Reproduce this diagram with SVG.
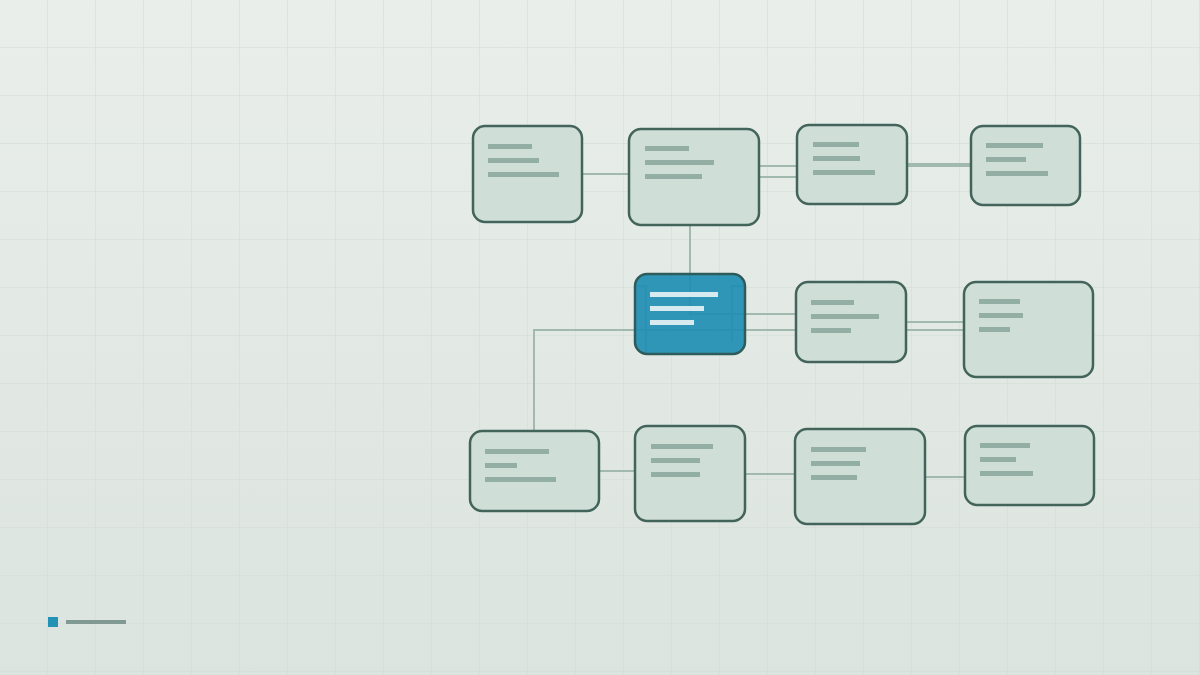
<svg xmlns="http://www.w3.org/2000/svg" width="1200" height="675" viewBox="0 0 1200 675">
<defs>
<linearGradient id="bg" x1="0" y1="0" x2="0" y2="1">
<stop offset="0" stop-color="#e9eeea"/>
<stop offset="1" stop-color="#dce4df"/>
</linearGradient>
<pattern id="grid" width="48" height="48" patternUnits="userSpaceOnUse">
<path d="M48 0V48M0 48H48" fill="none" stroke="#d0dbd5" stroke-width="1"/>
</pattern>
<style>
.node rect.box{fill:#cfdfd8;stroke:#43645b;stroke-width:2.5}
.node rect.bar{fill:#93afa5}
.hub rect.box{fill:#1c8db2;fill-opacity:0.9;stroke:#2f5c5a;stroke-width:2.5}
.hub rect.bar{fill:#d6eaf0}
.conn path{fill:none;stroke:#a2b9b0;stroke-width:2}
</style>
</defs>
<rect width="1200" height="675" fill="url(#bg)"/>
<rect width="1200" height="675" fill="url(#grid)"/>

<g id="connectors" class="conn">
<path d="M582 174H629"/>
<path d="M759 166H797M759 177H797"/>
<path d="M907 164H971M907 166H971"/>
<path d="M690 225V314H796"/>
<path d="M534 431V330H796"/>
<path d="M906 322H964M906 330H964"/>
<path d="M635 286H646V354M732 342V286H745"/>
<path d="M599 471H635"/>
<path d="M745 474H795"/>
<path d="M925 477H965"/>
</g>

<g id="nodeA" class="node">
<rect class="box" x="473" y="126" width="109" height="96" rx="12"/>
<rect class="bar" x="488" y="144" width="44" height="5"/>
<rect class="bar" x="488" y="158" width="51" height="5"/>
<rect class="bar" x="488" y="172" width="71" height="5"/>
</g>
<g id="nodeB" class="node">
<rect class="box" x="629" y="129" width="130" height="96" rx="12"/>
<rect class="bar" x="645" y="146" width="44" height="5"/>
<rect class="bar" x="645" y="160" width="69" height="5"/>
<rect class="bar" x="645" y="174" width="57" height="5"/>
</g>
<g id="nodeC" class="node">
<rect class="box" x="797" y="125" width="110" height="79" rx="12"/>
<rect class="bar" x="813" y="142" width="46" height="5"/>
<rect class="bar" x="813" y="156" width="47" height="5"/>
<rect class="bar" x="813" y="170" width="62" height="5"/>
</g>
<g id="nodeD" class="node">
<rect class="box" x="971" y="126" width="109" height="79" rx="12"/>
<rect class="bar" x="986" y="143" width="57" height="5"/>
<rect class="bar" x="986" y="157" width="40" height="5"/>
<rect class="bar" x="986" y="171" width="62" height="5"/>
</g>
<g id="hub" class="hub">
<rect class="box" x="635" y="274" width="110" height="80" rx="12"/>
<rect class="bar" x="650" y="292" width="68" height="5"/>
<rect class="bar" x="650" y="306" width="54" height="5"/>
<rect class="bar" x="650" y="320" width="44" height="5"/>
</g>
<g id="nodeF" class="node">
<rect class="box" x="796" y="282" width="110" height="80" rx="12"/>
<rect class="bar" x="811" y="300" width="43" height="5"/>
<rect class="bar" x="811" y="314" width="68" height="5"/>
<rect class="bar" x="811" y="328" width="40" height="5"/>
</g>
<g id="nodeG" class="node">
<rect class="box" x="964" y="282" width="129" height="95" rx="12"/>
<rect class="bar" x="979" y="299" width="41" height="5"/>
<rect class="bar" x="979" y="313" width="44" height="5"/>
<rect class="bar" x="979" y="327" width="31" height="5"/>
</g>
<g id="nodeH" class="node">
<rect class="box" x="470" y="431" width="129" height="80" rx="12"/>
<rect class="bar" x="485" y="449" width="64" height="5"/>
<rect class="bar" x="485" y="463" width="32" height="5"/>
<rect class="bar" x="485" y="477" width="71" height="5"/>
</g>
<g id="nodeI" class="node">
<rect class="box" x="635" y="426" width="110" height="95" rx="12"/>
<rect class="bar" x="651" y="444" width="62" height="5"/>
<rect class="bar" x="651" y="458" width="49" height="5"/>
<rect class="bar" x="651" y="472" width="49" height="5"/>
</g>
<g id="nodeJ" class="node">
<rect class="box" x="795" y="429" width="130" height="95" rx="12"/>
<rect class="bar" x="811" y="447" width="55" height="5"/>
<rect class="bar" x="811" y="461" width="49" height="5"/>
<rect class="bar" x="811" y="475" width="46" height="5"/>
</g>
<g id="nodeK" class="node">
<rect class="box" x="965" y="426" width="129" height="79" rx="12"/>
<rect class="bar" x="980" y="443" width="50" height="5"/>
<rect class="bar" x="980" y="457" width="36" height="5"/>
<rect class="bar" x="980" y="471" width="53" height="5"/>
</g>

<g id="legend">
<rect x="48" y="617" width="10" height="10" fill="#2392b4"/>
<rect x="66" y="620" width="60" height="4" fill="#819993"/>
</g>
</svg>
